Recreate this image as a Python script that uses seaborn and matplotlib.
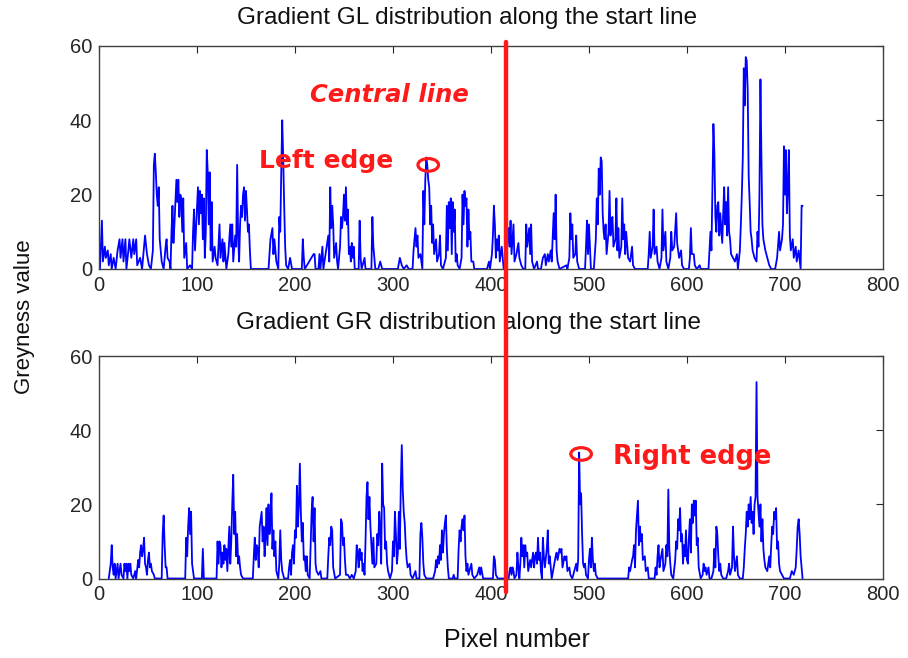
import matplotlib
matplotlib.use("Agg")
import matplotlib.pyplot as plt
import matplotlib.transforms as mtransforms
from matplotlib.lines import Line2D
from matplotlib.patches import Ellipse
import seaborn as sns
import pandas as pd

# Gradient GL along the start line: (pixel, greyness) vertices
gl_points = [
    (1, 0), (3, 13), (4, 2), (6, 6), (7, 3), (9, 5), (10, 1), (12, 4), (13, 0), (15, 3), (17, 0), (19, 5),
    (21, 8), (22, 3), (24, 8), (25, 2), (27, 8), (28, 0), (30, 5), (31, 8), (33, 3), (35, 8), (36, 4), (38, 8),
    (39, 1), (42, 3), (44, 0), (46, 6), (47, 9), (49, 4), (51, 1), (53, 0), (55, 5), (56, 28), (57, 31), (58, 26),
    (59, 20), (60, 17), (61, 22), (62, 8), (64, 2), (66, 0), (68, 6), (69, 8), (70, 3), (72, 2), (73, 0), (74, 10),
    (75, 17), (76, 7), (77, 12), (79, 24), (80, 18), (81, 24), (82, 14), (83, 20), (84, 19), (85, 10), (86, 19),
    (87, 3), (89, 7), (90, 0), (93, 1), (95, 0), (96, 10), (97, 16), (98, 5), (100, 16), (101, 22), (102, 12),
    (103, 21), (104, 15), (105, 20), (106, 8), (107, 19), (108, 3), (109, 10), (110, 32), (111, 26), (112, 12),
    (113, 26), (114, 5), (115, 18), (116, 2), (118, 6), (119, 3), (121, 1), (123, 12), (124, 3), (126, 8), (127, 2),
    (128, 7), (130, 0), (132, 4), (134, 12), (135, 6), (136, 12), (137, 2), (139, 9), (140, 6), (141, 28), (142, 9),
    (143, 2), (144, 12), (145, 17), (146, 14), (147, 20), (148, 22), (149, 13), (150, 21), (151, 16), (152, 10),
    (153, 12), (154, 5), (155, 0), (173, 0), (175, 8), (177, 11), (178, 4), (179, 8), (181, 2), (183, 0), (184, 14),
    (185, 10), (186, 26), (187, 40), (188, 30), (189, 17), (190, 6), (191, 1), (193, 0), (195, 3), (197, 0),
    (207, 0), (208, 8), (209, 3), (210, 0), (219, 4), (220, 4), (221, 0), (224, 0), (225, 4), (226, 0), (228, 6),
    (229, 0), (234, 9), (235, 2), (236, 22), (237, 11), (238, 17), (239, 12), (240, 3), (242, 7), (243, 2), (244, 0),
    (246, 6), (247, 14), (248, 11), (249, 14), (250, 20), (251, 13), (252, 22), (253, 12), (254, 16), (255, 4),
    (256, 6), (257, 2), (258, 7), (259, 3), (260, 6), (261, 0), (265, 0), (266, 13), (267, 3), (268, 0), (271, 3),
    (272, 0), (278, 0), (279, 14), (280, 6), (281, 3), (282, 0), (285, 0), (287, 2), (289, 0), (305, 0), (307, 3),
    (309, 1), (311, 0), (314, 1), (316, 0), (320, 0), (321, 5), (323, 11), (324, 6), (325, 9), (326, 3), (328, 4),
    (330, 0), (331, 21), (332, 12), (333, 24), (334, 30), (335, 28), (336, 24), (337, 22), (338, 12), (339, 17),
    (340, 7), (341, 12), (342, 4), (344, 8), (345, 2), (347, 4), (348, 9), (349, 1), (351, 0), (354, 3), (355, 17),
    (356, 5), (357, 18), (358, 11), (359, 19), (360, 4), (361, 18), (362, 10), (363, 16), (364, 2), (365, 4),
    (366, 1), (368, 0), (370, 3), (371, 20), (372, 12), (373, 21), (374, 17), (375, 19), (376, 6), (377, 16),
    (378, 8), (379, 10), (380, 2), (382, 2), (383, 0), (396, 0), (398, 2), (399, 0), (401, 4), (402, 9), (403, 17),
    (404, 12), (405, 3), (406, 8), (407, 5), (408, 9), (409, 2), (411, 6), (412, 3), (413, 0), (416, 5), (418, 11),
    (419, 6), (420, 13), (421, 4), (422, 8), (423, 12), (424, 2), (426, 4), (428, 7), (429, 3), (431, 1), (433, 0),
    (435, 0), (436, 12), (437, 6), (439, 11), (440, 4), (441, 12), (442, 2), (444, 0), (447, 2), (448, 0), (451, 0),
    (453, 3), (455, 4), (456, 1), (458, 4), (459, 2), (461, 5), (462, 2), (464, 15), (465, 8), (466, 20), (467, 5),
    (468, 2), (470, 0), (477, 1), (478, 0), (480, 3), (481, 15), (482, 8), (483, 12), (484, 3), (486, 4), (487, 9),
    (488, 2), (490, 0), (496, 0), (497, 6), (498, 13), (499, 4), (500, 12), (501, 6), (502, 0), (505, 0), (507, 8),
    (508, 19), (509, 12), (510, 27), (511, 20), (512, 30), (513, 29), (514, 15), (515, 10), (516, 8), (517, 12),
    (518, 4), (520, 10), (521, 21), (522, 9), (523, 13), (524, 14), (525, 6), (527, 8), (528, 19), (529, 5),
    (530, 11), (531, 3), (533, 6), (534, 19), (535, 8), (536, 12), (537, 4), (538, 10), (540, 3), (542, 2), (544, 6),
    (545, 1), (547, 0), (560, 0), (561, 4), (562, 10), (563, 3), (565, 6), (566, 16), (567, 4), (569, 6), (570, 2),
    (572, 0), (574, 3), (575, 16), (576, 5), (578, 10), (579, 2), (581, 0), (583, 3), (584, 10), (585, 5), (587, 6),
    (589, 15), (590, 7), (592, 3), (594, 5), (595, 1), (597, 0), (602, 0), (603, 3), (604, 11), (605, 4), (607, 4),
    (608, 1), (610, 0), (613, 1), (614, 0), (622, 0), (624, 10), (625, 5), (627, 39), (628, 31), (629, 14),
    (630, 10), (631, 17), (632, 18), (633, 9), (634, 15), (635, 11), (636, 7), (637, 15), (638, 22), (639, 12),
    (640, 18), (641, 9), (642, 22), (643, 10), (644, 8), (645, 4), (647, 3), (649, 2), (651, 4), (652, 0), (654, 5),
    (655, 12), (656, 20), (657, 30), (658, 54), (659, 44), (660, 57), (661, 56), (662, 48), (663, 25), (664, 18),
    (665, 10), (666, 8), (667, 5), (669, 3), (671, 2), (672, 10), (673, 6), (674, 20), (675, 51), (676, 30),
    (677, 12), (678, 8), (680, 5), (682, 3), (684, 1), (686, 0), (690, 0), (692, 3), (694, 10), (695, 5), (697, 8),
    (698, 12), (699, 33), (700, 20), (701, 32), (702, 15), (703, 22), (704, 32), (705, 9), (706, 5), (708, 8),
    (709, 3), (711, 6), (712, 2), (714, 5), (716, 0), (717, 17), (718, 17),
]

# Gradient GR along the start line: (pixel, greyness) vertices
gr_points = [
    (10, 0), (12, 4), (13, 9), (14, 3), (15, 1), (16, 4), (17, 0), (18, 2), (19, 4), (20, 0), (21, 2), (22, 4),
    (23, 1), (25, 0), (26, 4), (27, 2), (28, 4), (29, 0), (30, 4), (31, 2), (32, 4), (33, 1), (35, 0), (37, 2),
    (38, 0), (40, 5), (41, 3), (42, 7), (43, 9), (44, 6), (45, 8), (46, 11), (47, 4), (48, 3), (49, 1), (50, 5),
    (51, 7), (52, 3), (53, 4), (54, 2), (56, 1), (57, 0), (64, 0), (65, 12), (66, 17), (67, 9), (68, 3), (69, 3),
    (70, 0), (88, 0), (89, 11), (90, 6), (91, 14), (92, 19), (93, 12), (94, 18), (95, 4), (96, 2), (97, 0),
    (105, 0), (106, 8), (107, 0), (120, 0), (121, 10), (122, 4), (123, 10), (124, 9), (125, 3), (126, 7), (127, 4),
    (128, 9), (129, 5), (130, 8), (131, 2), (132, 8), (133, 14), (134, 4), (135, 10), (136, 20), (137, 28),
    (138, 12), (139, 18), (140, 6), (141, 12), (142, 4), (143, 6), (144, 3), (145, 1), (147, 0), (157, 0), (158, 6),
    (159, 11), (160, 5), (161, 9), (162, 8), (163, 3), (164, 14), (165, 16), (166, 18), (167, 10), (168, 14),
    (169, 6), (170, 11), (171, 19), (172, 9), (173, 20), (174, 12), (175, 15), (176, 23), (177, 8), (178, 13),
    (179, 6), (180, 10), (181, 2), (183, 0), (184, 4), (185, 13), (186, 5), (187, 2), (189, 0), (193, 0), (194, 3),
    (195, 5), (196, 1), (197, 7), (198, 9), (199, 4), (200, 13), (201, 11), (202, 25), (203, 14), (204, 20),
    (205, 31), (206, 18), (207, 10), (208, 15), (209, 5), (210, 6), (211, 2), (212, 6), (213, 1), (215, 0), (216, 9),
    (217, 18), (218, 22), (219, 10), (220, 19), (221, 4), (222, 2), (224, 1), (226, 2), (227, 0), (233, 0), (234, 6),
    (235, 11), (236, 9), (237, 14), (238, 13), (239, 3), (241, 0), (246, 1), (247, 16), (248, 15), (249, 9),
    (250, 11), (251, 5), (252, 1), (254, 1), (256, 0), (258, 1), (260, 0), (262, 2), (263, 9), (264, 7), (265, 3),
    (266, 8), (267, 5), (268, 7), (269, 2), (270, 4), (271, 1), (272, 10), (273, 22), (274, 26), (275, 16),
    (276, 22), (277, 14), (278, 9), (279, 4), (280, 11), (281, 3), (283, 4), (284, 12), (285, 9), (286, 18),
    (287, 13), (288, 4), (289, 31), (290, 20), (291, 19), (292, 8), (293, 10), (294, 4), (295, 2), (297, 0),
    (299, 2), (300, 10), (301, 6), (302, 18), (303, 12), (304, 4), (305, 7), (306, 18), (307, 8), (308, 25),
    (309, 36), (310, 24), (311, 18), (312, 15), (313, 9), (314, 5), (315, 3), (317, 4), (318, 1), (320, 0),
    (323, 2), (324, 0), (327, 0), (328, 12), (329, 15), (330, 11), (331, 4), (332, 1), (334, 0), (341, 0), (343, 2),
    (344, 5), (345, 3), (346, 6), (347, 4), (348, 9), (349, 5), (350, 13), (351, 7), (352, 12), (353, 15),
    (354, 17), (355, 8), (356, 3), (357, 0), (361, 0), (362, 1), (363, 0), (366, 0), (367, 8), (368, 13), (369, 10),
    (370, 14), (371, 16), (372, 13), (373, 17), (374, 6), (375, 2), (376, 4), (377, 1), (379, 3), (380, 4),
    (381, 1), (383, 0), (386, 1), (388, 3), (389, 1), (390, 3), (392, 0), (402, 0), (403, 6), (404, 5), (405, 1),
    (407, 0), (418, 0), (419, 2), (420, 3), (421, 1), (422, 3), (423, 2), (424, 0), (426, 1), (427, 7), (428, 3),
    (429, 0), (430, 4), (431, 11), (432, 6), (433, 9), (434, 3), (435, 9), (436, 6), (437, 7), (438, 2), (440, 5),
    (441, 3), (442, 5), (443, 7), (444, 3), (445, 6), (446, 7), (447, 4), (448, 11), (449, 5), (450, 7), (451, 2),
    (452, 0), (453, 11), (454, 6), (455, 3), (457, 8), (458, 13), (459, 4), (460, 6), (461, 3), (462, 0), (464, 3),
    (466, 6), (467, 7), (468, 5), (470, 8), (471, 7), (472, 8), (473, 3), (475, 6), (476, 5), (477, 6), (478, 2),
    (480, 3), (481, 1), (483, 0), (485, 2), (487, 4), (488, 2), (489, 5), (490, 34), (491, 20), (492, 23),
    (493, 12), (494, 4), (495, 3), (496, 4), (497, 1), (499, 0), (500, 5), (501, 8), (502, 3), (503, 11), (504, 5),
    (505, 2), (506, 4), (507, 1), (509, 0), (540, 0), (541, 3), (542, 2), (544, 5), (545, 6), (546, 9), (547, 3),
    (548, 13), (549, 17), (550, 21), (551, 9), (552, 14), (553, 10), (554, 12), (555, 5), (557, 6), (558, 2),
    (560, 3), (561, 0), (567, 0), (568, 3), (569, 1), (570, 6), (571, 9), (572, 3), (573, 5), (575, 8), (576, 2),
    (578, 4), (579, 9), (580, 6), (581, 24), (582, 8), (583, 4), (584, 1), (586, 0), (588, 5), (589, 10), (590, 8),
    (591, 16), (592, 13), (593, 19), (594, 10), (595, 12), (596, 4), (597, 9), (598, 6), (599, 13), (600, 5),
    (601, 4), (602, 11), (603, 16), (604, 7), (605, 20), (606, 15), (607, 21), (608, 17), (609, 21), (610, 9),
    (611, 11), (612, 3), (614, 0), (616, 1), (617, 4), (618, 2), (619, 3), (620, 1), (622, 3), (623, 0), (625, 0),
    (627, 2), (628, 8), (629, 3), (630, 14), (631, 12), (632, 6), (633, 2), (634, 4), (635, 1), (637, 0), (640, 0),
    (642, 2), (643, 4), (644, 1), (646, 3), (647, 14), (648, 6), (649, 2), (651, 6), (652, 1), (654, 0), (657, 0),
    (658, 3), (659, 8), (660, 12), (661, 18), (662, 14), (663, 20), (664, 16), (665, 22), (666, 15), (667, 18),
    (668, 12), (669, 20), (670, 22), (671, 53), (672, 22), (673, 18), (674, 14), (675, 20), (676, 10), (677, 16),
    (678, 8), (679, 5), (680, 3), (682, 2), (684, 6), (685, 3), (686, 9), (687, 14), (688, 12), (689, 18),
    (690, 16), (691, 19), (692, 8), (693, 10), (694, 4), (695, 2), (697, 1), (699, 0), (705, 0), (707, 2), (709, 1),
    (711, 3), (712, 8), (713, 14), (714, 16), (715, 12), (716, 6), (717, 3), (718, 0),
]

x_ticks = [0, 100, 200, 300, 400, 500, 600, 700, 800]
y_ticks = [0, 20, 40, 60]
central_pixel = 415
left_edge = (336, 28)
right_edge = (492, 33.6)

sns.set_style("white")
plt.rcParams["font.family"] = ["Liberation Sans", "DejaVu Sans"]

fig = plt.figure(figsize=(9.08, 6.58), dpi=100)
ax_top = fig.add_axes([0.109, 0.5912, 0.8634, 0.339])
ax_bot = fig.add_axes([0.109, 0.1208, 0.8634, 0.338])

for ax, pts in ((ax_top, gl_points), (ax_bot, gr_points)):
    df = pd.DataFrame(pts, columns=["pixel", "grey"])
    sns.lineplot(data=df, x="pixel", y="grey", ax=ax, color="#0000ff", linewidth=1.3,
                 estimator=None, sort=False)
    ax.set_xlim(0, 800)
    ax.set_ylim(0, 60)
    ax.set_xticks(x_ticks)
    ax.set_yticks(y_ticks)
    ax.set_xlabel("")
    ax.set_ylabel("")
    ax.tick_params(direction="in", length=5, width=0.8, top=True, right=True,
                   labelsize=14.5, colors="#262626", pad=5)
    for s in ax.spines.values():
        s.set_color("#404040")
        s.set_linewidth(1.0)

# Titles and axis labels
fig.text(467 / 908, 1 - 18 / 658, "Gradient GL distribution along the start line",
         ha="center", va="center", fontsize=17.5, color="#111111")
fig.text(469 / 908, 1 - 323 / 658, "Gradient GR distribution along the start line",
         ha="center", va="center", fontsize=17.5, color="#111111")
fig.text(517 / 908, 1 - 640 / 658, "Pixel number", ha="center", va="center",
         fontsize=18, color="#111111")
fig.text(25 / 908, 1 - 317 / 658, "Greyness value", ha="center", va="center",
         rotation=90, fontsize=16, color="#111111")

# Central line crossing both panels
trans = mtransforms.blended_transform_factory(ax_top.transData, fig.transFigure)
fig.add_artist(Line2D([central_pixel, central_pixel], [1 - 42 / 658, 1 - 592 / 658],
                      transform=trans, color="#ff1a1a", linewidth=3.2, zorder=10))

red = "#ff1a1a"
ax_top.text(296, 46.8, "Central line", color=red, fontsize=17.5, fontweight="bold",
            fontstyle="italic", family="DejaVu Sans", ha="center", va="center")
ax_top.text(232, 29, "Left edge", color=red, fontsize=18, fontweight="bold",
            family="DejaVu Sans", ha="center", va="center")
ax_top.add_patch(Ellipse(left_edge, width=21, height=3.4, fill=False,
                         edgecolor=red, linewidth=2.3, zorder=5))
ax_bot.text(605, 32.8, "Right edge", color=red, fontsize=18.5, fontweight="bold",
            family="DejaVu Sans", ha="center", va="center")
ax_bot.add_patch(Ellipse(right_edge, width=21, height=3.4, fill=False,
                         edgecolor=red, linewidth=2.3, zorder=5))

fig.savefig("out.png", dpi=100)
